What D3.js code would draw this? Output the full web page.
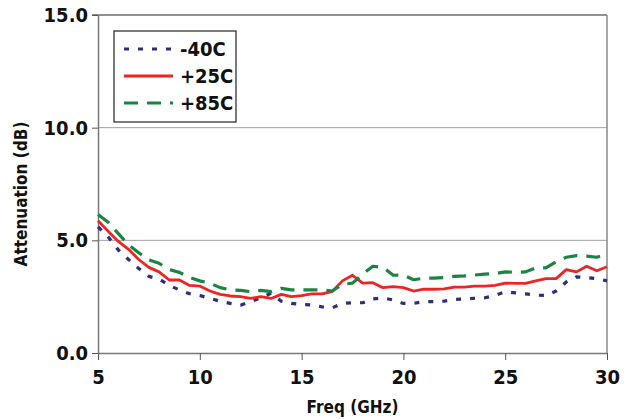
<!DOCTYPE html>
<html>
<head>
<meta charset="utf-8">
<script src="https://cdn.jsdelivr.net/npm/d3@7"></script>
<style>
  body { margin: 0; background: #fff; }
  svg text { font-family: 'Liberation Sans Narrow', 'DejaVu Sans Condensed', sans-serif; font-weight: bold; fill: #111; }
</style>
</head>
<body>
<svg id="chart"></svg>
<script>
const width = 626
const height = 419
const margin = { top: 15, right: 19, bottom: 66, left: 98 }

// frequency points (GHz), 0.5 GHz step
const freq = d3.range(5, 30.01, 0.5)

const minus40 = [
  5.6, 5.15, 4.57, 4.15, 3.75, 3.4, 3.28, 3.0, 2.8, 2.63,
  2.55, 2.42, 2.3, 2.2, 2.12, 2.28, 2.45, 2.65, 2.3, 2.2,
  2.15, 2.13, 2.05, 2.0, 2.2, 2.23, 2.23, 2.4, 2.45, 2.35,
  2.2, 2.2, 2.28, 2.28, 2.3, 2.38, 2.4, 2.43, 2.45, 2.55,
  2.72, 2.67, 2.62, 2.57, 2.55, 2.75, 3.15, 3.38, 3.35, 3.3,
  3.2,
]
const plus25 = [
  5.87, 5.4, 4.95, 4.6, 4.15, 3.8, 3.6, 3.24, 3.24, 3.0,
  2.97, 2.75, 2.6, 2.53, 2.5, 2.42, 2.5, 2.42, 2.6, 2.5,
  2.55, 2.62, 2.62, 2.72, 3.2, 3.45, 3.1, 3.12, 2.9, 2.95,
  2.9, 2.75, 2.83, 2.83, 2.85, 2.92, 2.92, 2.97, 2.97, 3.0,
  3.1, 3.09, 3.09, 3.2, 3.3, 3.3, 3.7, 3.6, 3.85, 3.65,
  3.83,
]
const plus85 = [
  6.15, 5.8, 5.3, 4.8, 4.45, 4.13, 3.98, 3.7, 3.58, 3.35,
  3.2, 3.1, 2.9, 2.8, 2.78, 2.72, 2.78, 2.72, 2.87, 2.8,
  2.8, 2.8, 2.8, 2.75, 3.05, 3.1, 3.5, 3.85, 3.8, 3.45,
  3.46, 3.25, 3.32, 3.32, 3.35, 3.4, 3.42, 3.46, 3.5, 3.52,
  3.6, 3.58, 3.6, 3.78, 3.78, 4.05, 4.25, 4.32, 4.3, 4.25,
  4.39,
]

const xTicks = [5, 10, 15, 20, 25, 30]
const yTicks = [0, 5, 10, 15]

const series = [
  { name: '-40C', values: minus40, color: '#2b2f7e', width: 3.2, dash: '5,9' },
  { name: '+25C', values: plus25, color: '#ee2424', width: 2.8, dash: null },
  { name: '+85C', values: plus85, color: '#1b8443', width: 3.2, dash: '14,9' },
]

const svg = d3.select('#chart').attr('width', width).attr('height', height)

const x = d3.scaleLinear().domain([5, 30]).range([margin.left, width - margin.right])
const y = d3.scaleLinear().domain([0, 15]).range([height - margin.bottom, margin.top])

// horizontal gridlines
svg.append('g')
  .selectAll('line')
  .data([5, 10])
  .join('line')
  .attr('x1', x(5)).attr('x2', x(30))
  .attr('y1', d => y(d)).attr('y2', d => y(d))
  .attr('stroke', '#a0a0a0')
  .attr('stroke-width', 1)

// top border and right border
svg.append('line')
  .attr('x1', x(5) - 6).attr('x2', x(30))
  .attr('y1', y(15)).attr('y2', y(15))
  .attr('stroke', '#222').attr('stroke-width', 1.2)
svg.append('line')
  .attr('x1', x(30)).attr('x2', x(30))
  .attr('y1', y(15)).attr('y2', y(0))
  .attr('stroke', '#888').attr('stroke-width', 1.5)

// axes
const xAxis = svg.append('g')
  .attr('transform', `translate(0,${y(0)})`)
  .call(d3.axisBottom(x).tickValues(xTicks).tickSize(7).tickSizeOuter(0).tickFormat(d3.format('d')))
const yAxis = svg.append('g')
  .attr('transform', `translate(${x(5)},0)`)
  .call(d3.axisLeft(y).tickValues(yTicks).tickSize(6).tickSizeOuter(0).tickFormat(d3.format('.1f')))

xAxis.select('.domain').attr('stroke', '#777').attr('stroke-width', 1.5)
yAxis.select('.domain').attr('stroke', '#777').attr('stroke-width', 1.5)
xAxis.selectAll('.tick line').attr('stroke', '#555')
yAxis.selectAll('.tick line').attr('stroke', '#555')
xAxis.selectAll('.tick text').attr('font-size', 20).attr('dy', '1.05em').attr('fill', '#111')
yAxis.selectAll('.tick text').attr('font-size', 20).attr('x', -10).attr('fill', '#111')

// axis titles
svg.append('text')
  .attr('x', (x(5) + x(30)) / 2)
  .attr('y', 413)
  .attr('text-anchor', 'middle')
  .attr('font-size', 17)
  .text('Freq (GHz)')
svg.append('text')
  .attr('transform', `translate(27,${(y(0) + y(15)) / 2 + 10}) rotate(-90)`)
  .attr('text-anchor', 'middle')
  .attr('font-size', 17)
  .text('Attenuation (dB)')

// series lines
const line = d3.line()
  .x((d, i) => x(freq[i]))
  .y(d => y(d))

svg.append('g')
  .selectAll('path')
  .data(series)
  .join('path')
  .attr('d', d => line(d.values))
  .attr('fill', 'none')
  .attr('stroke', d => d.color)
  .attr('stroke-width', d => d.width)
  .attr('stroke-dasharray', d => d.dash)
  .attr('stroke-linejoin', 'round')

// legend
const legend = svg.append('g').attr('transform', 'translate(114,31)')
legend.append('rect')
  .attr('width', 122).attr('height', 91)
  .attr('fill', '#fff').attr('stroke', '#222').attr('stroke-width', 1.2)

const items = legend.selectAll('.item')
  .data(series)
  .join('g')
  .attr('class', 'item')
  .attr('transform', (d, i) => `translate(0,${18 + i * 27})`)
items.append('line')
  .attr('x1', 10).attr('x2', 59)
  .attr('stroke', d => d.color)
  .attr('stroke-width', d => d.width)
  .attr('stroke-dasharray', d => d.dash)
items.append('text')
  .attr('x', 66)
  .attr('dy', '0.36em')
  .attr('font-size', 20)
  .text(d => d.name)
</script>
</body>
</html>
